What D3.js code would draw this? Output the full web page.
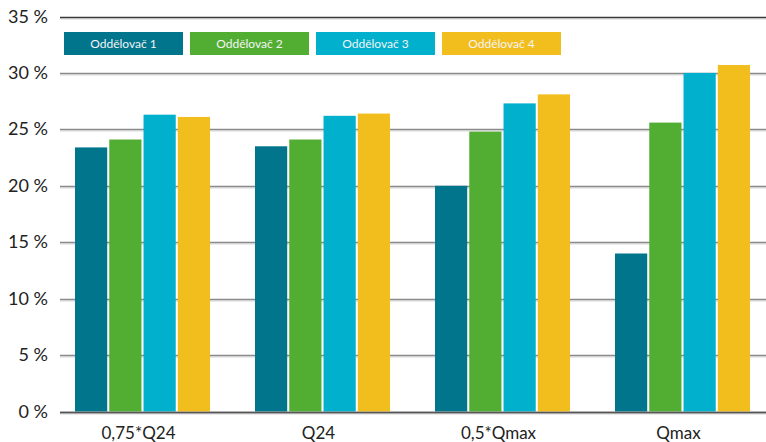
<!DOCTYPE html>
<html>
<head>
<meta charset="utf-8">
<script src="https://cdn.jsdelivr.net/npm/d3@7"></script>
<style>
  html, body { margin: 0; padding: 0; background: #fff; }
  svg { display: block; }
</style>
</head>
<body>
<svg id="chart" width="766" height="442"></svg>
<script>
// Categories (flow levels) and separator series
const categories = ["0,75*Q24", "Q24", "0,5*Qmax", "Qmax"];
const seriesNames = ["Oddělovač 1", "Oddělovač 2", "Oddělovač 3", "Oddělovač 4"];
const seriesColors = ["#00758c", "#52ae33", "#00b0cc", "#f2be1e"];

// Values in percent, one array per separator
const sep1 = [23.4, 23.5, 20.0, 14.0];
const sep2 = [24.1, 24.1, 24.8, 25.6];
const sep3 = [26.3, 26.2, 27.3, 30.0];
const sep4 = [26.1, 26.4, 28.1, 30.7];
const seriesValues = [sep1, sep2, sep3, sep4];

const yTicks = [0, 5, 10, 15, 20, 25, 30, 35];

const svg = d3.select("#chart");
const W = 766, H = 442;
const plotLeft = 60, plotRight = 766;
const y0 = 411.5, yTop = 16.5;

const x = d3.scaleBand().domain(categories).range([52.5, 772.5]).paddingInner(0.25).paddingOuter(0.125);
const xs = d3.scaleBand().domain(seriesNames).range([0, x.bandwidth()]).paddingInner(0.06);
const y = d3.scaleLinear().domain([0, 35]).range([y0, yTop]);

const font = "Lato, 'Open Sans', sans-serif";

// Gridlines (with a soft light line beneath)
const grid = svg.append("g");
yTicks.forEach(t => {
  const yy = Math.round(y(t)) + 0.5;
  grid.append("line")
    .attr("x1", plotLeft).attr("x2", plotRight)
    .attr("y1", yy + 1.5).attr("y2", yy + 1.5)
    .attr("stroke", "#e4e4e4").attr("stroke-width", 1.5);
  grid.append("line")
    .attr("x1", plotLeft).attr("x2", plotRight)
    .attr("y1", yy).attr("y2", yy)
    .attr("stroke", t === 35 ? "#3a3a3a" : (t === 0 ? "#555" : "#8a8a8a"))
    .attr("stroke-width", 1.5);
});

// Y tick labels
svg.append("g").selectAll("text").data(yTicks).join("text")
  .attr("x", 48).attr("y", d => y(d) + 6)
  .attr("text-anchor", "end")
  .attr("font-family", font).attr("font-size", 18)
  .attr("fill", "#222")
  .text(d => d + " %");

// Bars
const groups = svg.append("g").selectAll("g").data(categories).join("g")
  .attr("transform", d => `translate(${x(d)},0)`);
groups.selectAll("rect")
  .data((c, ci) => seriesNames.map((s, si) => ({ s, si, v: seriesValues[si][ci] })))
  .join("rect")
  .attr("x", d => xs(d.s))
  .attr("width", xs.bandwidth())
  .attr("y", d => y(d.v))
  .attr("height", d => y0 - y(d.v))
  .attr("fill", d => seriesColors[d.si]);

// Redraw the baseline on top of bars
svg.append("line")
  .attr("x1", plotLeft).attr("x2", plotRight)
  .attr("y1", Math.round(y0) + 0.5).attr("y2", Math.round(y0) + 0.5)
  .attr("stroke", "#555").attr("stroke-width", 1.5);

// Category labels
svg.append("g").selectAll("text").data(categories).join("text")
  .attr("x", d => x(d) + x.bandwidth() / 2 - 4)
  .attr("y", 439)
  .attr("text-anchor", "middle")
  .attr("font-family", font).attr("font-size", 17)
  .attr("fill", "#222")
  .text(d => d);

// Legend boxes
const legend = svg.append("g").selectAll("g").data(seriesNames).join("g")
  .attr("transform", (d, i) => `translate(${64 + i * 126},32)`);
legend.append("rect")
  .attr("width", 119).attr("height", 23)
  .attr("fill", (d, i) => seriesColors[i]);
legend.append("text")
  .attr("x", 59.5).attr("y", 16)
  .attr("text-anchor", "middle")
  .attr("font-family", font).attr("font-size", 12)
  .attr("fill", "#f4f4f4")
  .text(d => d);
</script>
</body>
</html>
